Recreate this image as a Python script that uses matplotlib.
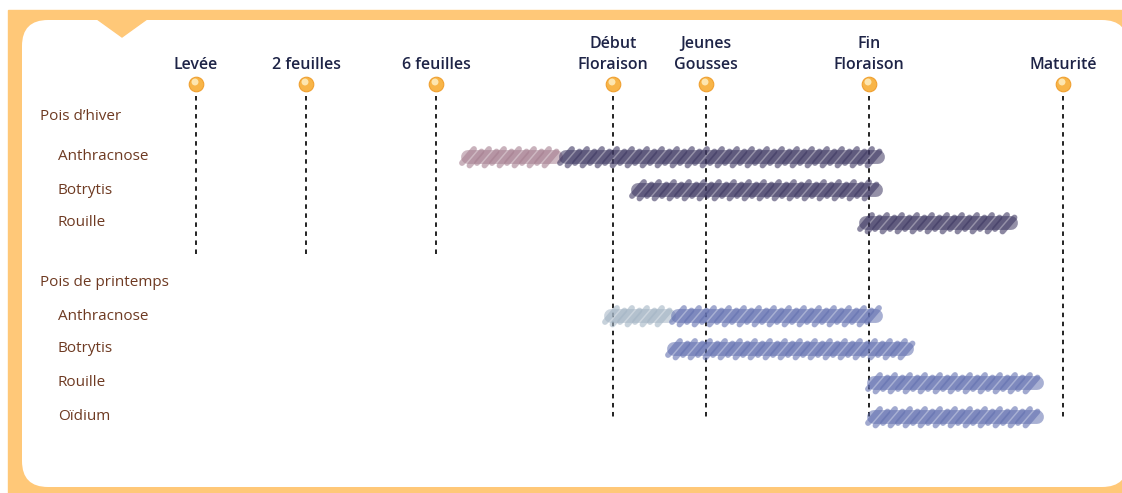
import matplotlib
matplotlib.use("Agg")
import matplotlib.pyplot as plt
from matplotlib.patches import FancyBboxPatch, Rectangle, Polygon
import numpy as np

plt.rcParams['font.family'] = ['Open Sans', 'DejaVu Sans']

# crop stages along the season (timeline position)
stages = ["Levée", "2 feuilles", "6 feuilles", "Début\nFloraison",
          "Jeunes\nGousses", "Fin\nFloraison", "Maturité"]
stage_pos = [196, 306, 436, 613, 706, 869, 1063]
stage_line_end = [255, 255, 255, 420, 420, 420, 420]

# row labels
groups = ["Pois d’hiver", "Pois de printemps"]
group_y = [117, 282]
diseases = ["Anthracnose", "Botrytis", "Rouille",
            "Anthracnose", "Botrytis", "Rouille", "Oïdium"]
disease_y = [157, 190, 223, 316, 349, 383, 417]

# risk periods: (start, end) of weak risk, then (start, end) of strong risk
weak_start = [462, None, None, 605, None, None, None]
weak_end = [562, None, None, 675, None, None, None]
strong_start = [560, 632, 860, 672, 668, 868, 868]
strong_end = [884, 882, 1017, 882, 913, 1043, 1043]

dark_col = "#3e3862"
mauve_col = "#a67f90"
blue_col = "#6270b0"
grey_col = "#a3b4c4"
strong_cols = [dark_col] * 3 + [blue_col] * 4
weak_cols = [mauve_col] * 3 + [grey_col] * 4

text_col = "#6e3a22"
stage_col = "#1e2447"
orange = "#ffc878"

fig = plt.figure(figsize=(11.22, 4.93), dpi=100)
ax = fig.add_axes([0, 0, 1, 1])
ax.set_xlim(0, 1122)
ax.set_ylim(493, 0)
ax.axis("off")

# frame
ax.add_patch(Rectangle((8, 10), 1114, 483, color=orange, zorder=0))
ax.add_patch(FancyBboxPatch((22, 20), 1106, 467,
                            boxstyle="round,pad=0,rounding_size=26",
                            fc="white", ec="none", zorder=1))
ax.add_patch(Polygon([(97, 19), (147, 19), (122, 37)], color=orange, zorder=1))


def scribble(x0, x1, y, col):
    # brush-like band of slanted strokes
    ax.plot([x0 + 6, x1 - 6], [y, y], color=col, lw=10, alpha=0.55,
            solid_capstyle="round", zorder=3)
    k = 0
    for x in np.arange(x0 + 6, x1 - 5, 7.5):
        off = 1.5 if k % 2 else -1.0
        ax.plot([x - 6, x + 6], [y + 7 + off, y - 7 + off], color=col, lw=4.2,
                alpha=0.6, solid_capstyle="round", zorder=4)
        k += 1


# stage markers, labels and dashed lines
for name, x, y_end in zip(stages, stage_pos, stage_line_end):
    ax.plot([x, x], [96, y_end], color="#111111", lw=1.3,
            ls=(0, (2.5, 2.5)), zorder=2)
    ax.scatter([x], [84], s=110, color="#f8b548", ec="#f0a030", lw=0.8, zorder=5)
    ax.scatter([x - 1], [82], s=25, color="#fde6b0", ec="none", zorder=6)
    ax.text(x, 73, name, ha="center", va="bottom", fontsize=11.5,
            color=stage_col, linespacing=1.4, fontweight="semibold", zorder=5)

for g, y in zip(groups, group_y):
    ax.text(40, y, g, ha="left", va="center", fontsize=11, color=text_col,
            fontweight="medium")
for d, y in zip(diseases, disease_y):
    ax.text(58, y, d, ha="left", va="center", fontsize=11, color=text_col,
            fontweight="medium")

for i, y in enumerate(disease_y):
    if weak_start[i] is not None:
        scribble(weak_start[i], weak_end[i], y, weak_cols[i])
    scribble(strong_start[i], strong_end[i], y, strong_cols[i])

fig.savefig("out.png", dpi=100, facecolor="white")
